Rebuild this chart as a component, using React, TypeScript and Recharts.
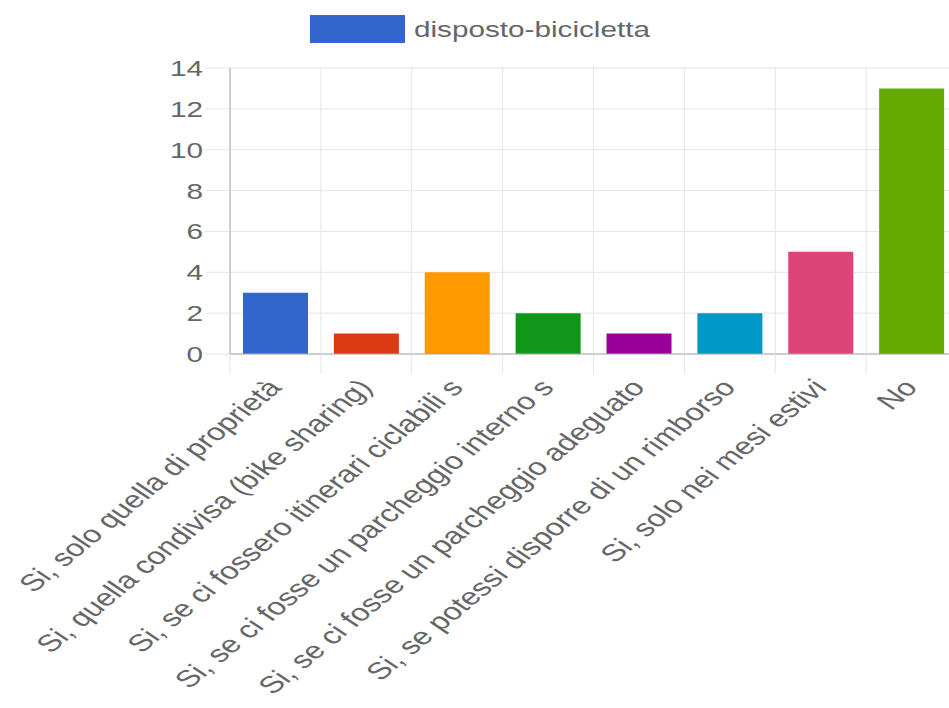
import React from 'react';
import { BarChart, Bar, Cell, XAxis, YAxis, CartesianGrid, Legend } from 'recharts';

const categories = [
  'Si, solo quella di proprietà',
  'Si, quella condivisa (bike sharing)',
  'Si, se ci fossero itinerari ciclabili s',
  'Si, se ci fosse un parcheggio interno s',
  'Si, se ci fosse un parcheggio adeguato',
  'Si, se potessi disporre di un rimborso',
  'Si, solo nei mesi estivi',
  'No',
];
const values = [3, 1, 4, 2, 1, 2, 5, 13];
const colors = ['#3366cc', '#dc3912', '#ff9900', '#109618', '#990099', '#0099c6', '#dd4477', '#66aa00'];
const yTicks = [0, 2, 4, 6, 8, 10, 12, 14];
const seriesName = 'disposto-bicicletta';

const data = categories.map((name, i) => ({ name, value: values[i] }));

// the reference is stretched sideways, so text gets the same treatment
const STRETCH = 1.35;
const FONT = '"Liberation Sans", Arial, sans-serif';
const GRID = '#e5e5e5';

const YTick = (props: any) => {
  const { x, y, payload } = props;
  return (
    <text
      transform={`translate(${x},${y}) scale(${STRETCH},1)`}
      textAnchor="end"
      dy="0.36em"
      fill="#666"
      fontSize={22}
      fontFamily={FONT}
    >
      {payload.value}
    </text>
  );
};

const XTick = (props: any) => {
  const { x, y, payload, index } = props;
  const half = payload.offset ?? 0;
  const last = index === categories.length - 1;
  return (
    <g>
      <line x1={x - half} x2={x - half} y1={y} y2={y + 20} stroke={GRID} />
      {last && <line x1={x + half} x2={x + half} y1={y} y2={y + 20} stroke={GRID} />}
      <text
        transform={`translate(${x - 10},${y + 23}) scale(${STRETCH},1) rotate(-48)`}
        textAnchor="end"
        dy="0.72em"
        fill="#666"
        fontSize={24}
        fontFamily={FONT}
      >
        {payload.value}
      </text>
    </g>
  );
};

const LegendContent = (props: any) => {
  const item = props.payload && props.payload[0];
  return (
    <svg width={949} height={53} style={{ display: 'block' }}>
      <rect x={310} y={0} width={95} height={28} fill={item ? item.color : colors[0]} />
      <text
        transform={`translate(414,14) scale(${STRETCH},1)`}
        dy="0.36em"
        fill="#666"
        fontSize={22}
        fontFamily={FONT}
      >
        {item ? item.value : seriesName}
      </text>
    </svg>
  );
};

export default function App() {
  return (
    <div style={{ position: 'absolute', left: 0, top: 0, width: 949, height: 708, overflow: 'hidden', background: '#fff' }}>
      <BarChart width={970} height={708} data={data} margin={{ top: 15, right: 13, bottom: 0, left: 0 }}>
        <Legend
          verticalAlign="top"
          align="left"
          wrapperStyle={{ top: 15, left: 0, width: 949, height: 53 }}
          content={LegendContent}
        />
        <CartesianGrid
          stroke={GRID}
          verticalCoordinatesGenerator={({ offset }: any) =>
            categories
              .map((_, i) => offset.left + (i * offset.width) / categories.length)
              .concat(offset.left + offset.width)
          }
        />
        <XAxis
          dataKey="name"
          height={354}
          interval={0}
          tickLine={false}
          tickSize={0}
          tickMargin={0}
          axisLine={{ stroke: '#aaa' }}
          tick={<XTick />}
        />
        <YAxis
          width={230}
          domain={[0, 14]}
          ticks={yTicks}
          interval={0}
          tickSize={25}
          tickMargin={2}
          tickLine={{ stroke: GRID }}
          axisLine={{ stroke: '#aaa' }}
          tick={<YTick />}
        />
        <Bar dataKey="value" name={seriesName} fill={colors[0]} barSize={65} isAnimationActive={false}>
          {data.map((_, i) => (
            <Cell key={i} fill={colors[i]} />
          ))}
        </Bar>
      </BarChart>
    </div>
  );
}
